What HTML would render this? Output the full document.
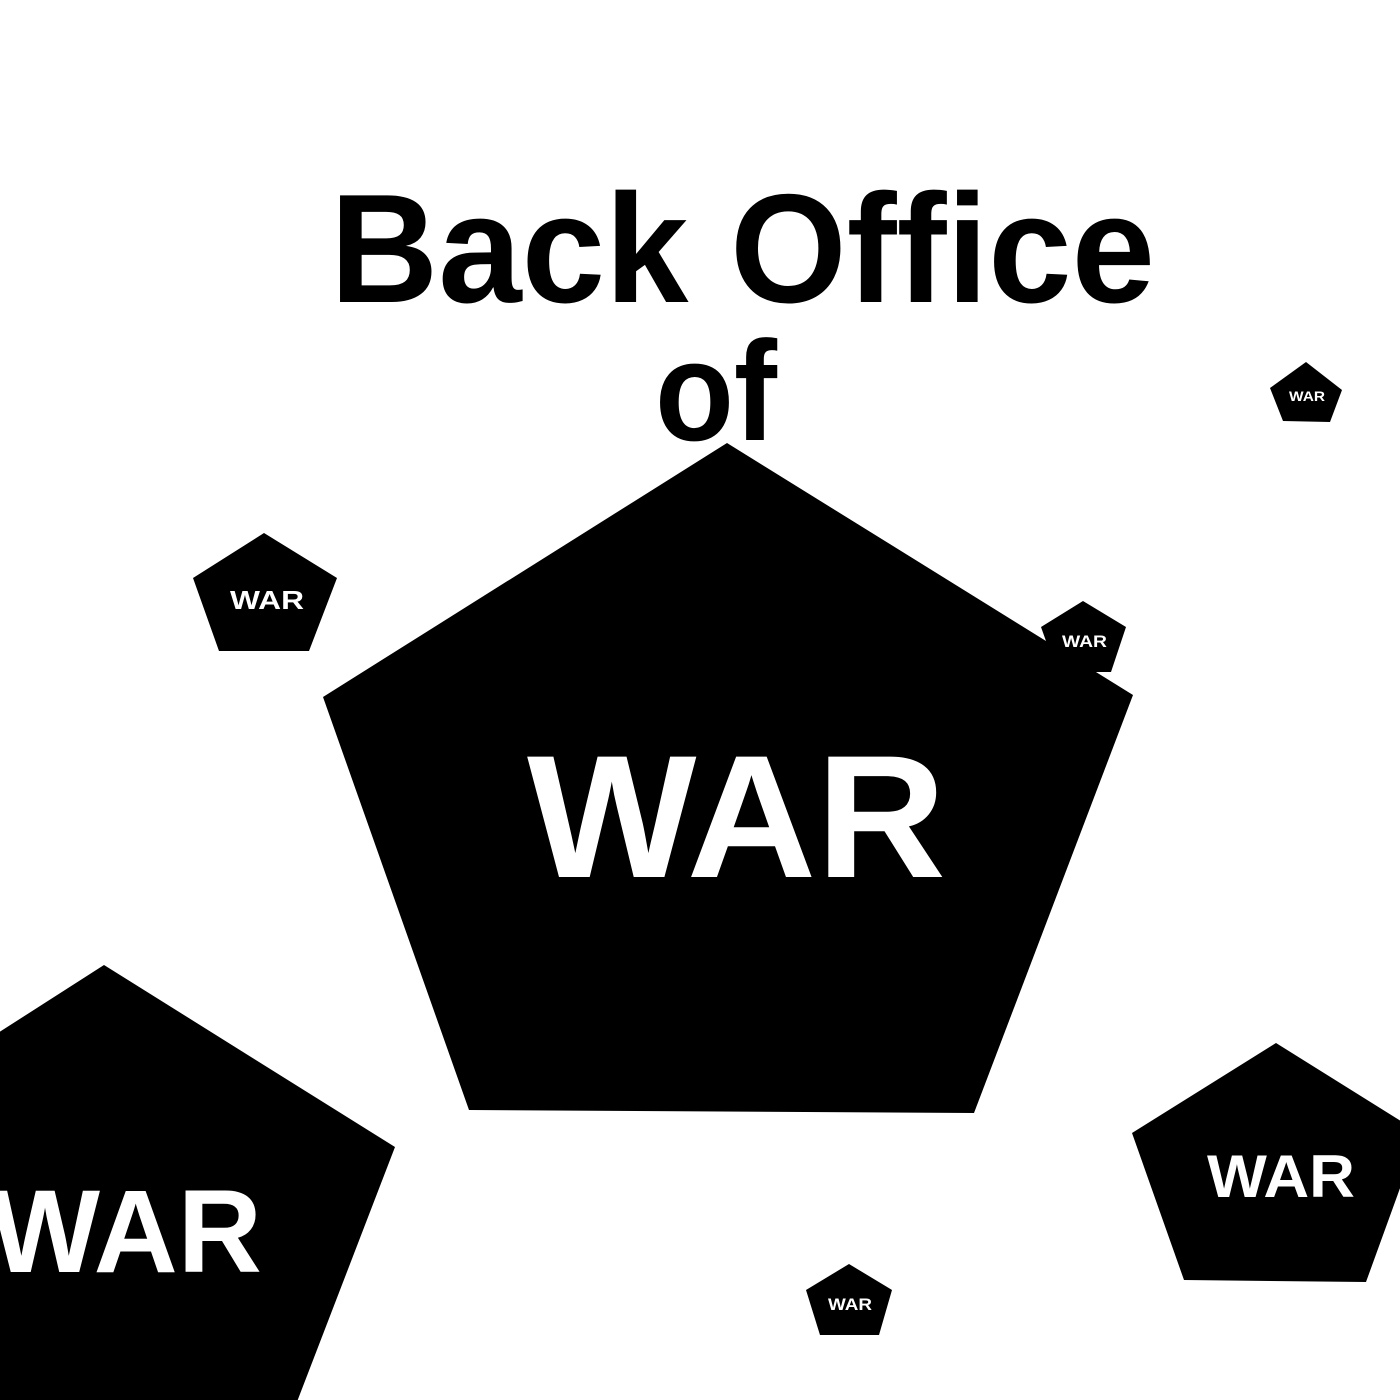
<!DOCTYPE html>
<html><head><meta charset="utf-8"><style>
html,body{margin:0;padding:0;background:#fff;width:1400px;height:1400px;overflow:hidden}
svg{display:block}
text{font-family:"Liberation Sans","DejaVu Sans",sans-serif;font-weight:bold}
</style></head><body>
<svg width="1400" height="1400" viewBox="0 0 1400 1400" xmlns="http://www.w3.org/2000/svg">
<rect width="1400" height="1400" fill="#fff"/>
<text x="330" y="302" font-size="155" fill="#000" textLength="825" lengthAdjust="spacingAndGlyphs">Back Office</text>
<text x="655" y="440" font-size="142" fill="#000" textLength="122" lengthAdjust="spacingAndGlyphs">of</text>

<polygon points="727,443 1133,695 974,1113 469,1110 323,697" fill="#000"/>
<text x="527" y="877" font-size="175" fill="#fff" textLength="419" lengthAdjust="spacingAndGlyphs">WAR</text>

<polygon points="1306,362 1342,390 1330,422 1283,421 1270,388" fill="#000"/>
<text x="1289" y="401" font-size="14" fill="#fff" textLength="36" lengthAdjust="spacingAndGlyphs">WAR</text>

<polygon points="264,533 337,578 309,651 219,651 193,578" fill="#000"/>
<text x="230" y="609" font-size="26" fill="#fff" textLength="74" lengthAdjust="spacingAndGlyphs">WAR</text>

<polygon points="1083,601 1126,627 1111,672 1057,672 1041,627" fill="#000"/>
<text x="1062" y="647" font-size="17" fill="#fff" textLength="45" lengthAdjust="spacingAndGlyphs">WAR</text>

<polygon points="104,965 395,1147 290,1420 -80,1420 -180,1147" fill="#000"/>
<text x="-10" y="1272" font-size="118" fill="#fff" textLength="272" lengthAdjust="spacingAndGlyphs">WAR</text>

<polygon points="1276,1043 1420,1133 1366,1282 1184,1280 1132,1133" fill="#000"/>
<text x="1207" y="1197" font-size="60" fill="#fff" textLength="148" lengthAdjust="spacingAndGlyphs">WAR</text>

<polygon points="849,1264 892,1290 879,1335 820,1335 806,1290" fill="#000"/>
<text x="828" y="1310" font-size="17" fill="#fff" textLength="44" lengthAdjust="spacingAndGlyphs">WAR</text>
</svg>
</body></html>
